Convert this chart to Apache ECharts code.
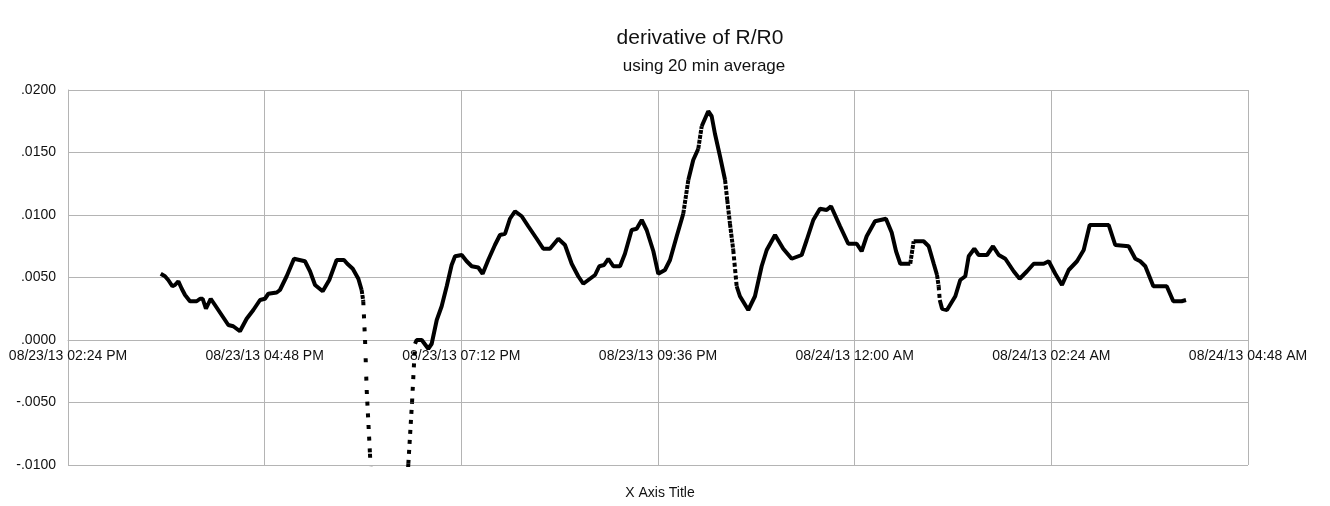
<!DOCTYPE html>
<html lang="en">
<head>
  <meta charset="UTF-8">
  <title>derivative of R/R0</title>
  <script src="https://cdn.jsdelivr.net/npm/echarts@6/dist/echarts.min.js"></script>
  <style>
    html, body { margin: 0; padding: 0; background: #fff; }
    #chart { width: 1330px; height: 506px; }
  </style>
</head>
<body>
<div id="chart"></div>
<script>
  // minutes after 08/23/13 02:24 PM
  const minutes = [
    67.9, 71.0, 73.4, 76.4, 78.3, 80.8, 83.3, 85.7, 89.3, 94.2,
    96.7, 98.6, 101.0, 104.5, 107.6, 112.5, 117.4, 121.0, 125.9, 130.8,
    135.7, 140.6, 144.2, 146.7, 152.8, 155.2, 160.1, 165.5, 173.5, 177.2,
    180.9, 186.5, 191.3, 196.7, 202.1, 204.5, 208.5, 212.6, 215.0, 216.2,
    217.5, 218.7, 221.1, 221.9, 235.8, 248.6, 249.2, 251.9, 254.1, 255.3,
    259.0, 263.8, 266.3, 270.0, 273.6, 277.3, 280.9, 283.4, 288.3, 291.9,
    295.6, 300.4, 303.6, 307.7, 312.6, 316.3, 320.0, 323.6, 327.3, 332.2,
    337.0, 343.2, 348.0, 352.9, 359.0, 363.9, 368.8, 373.6, 377.3, 382.2,
    385.9, 389.0, 392.5, 395.6, 399.3, 404.2, 407.8, 412.7, 416.4, 420.1,
    423.7, 428.6, 432.2, 437.1, 440.8, 445.7, 450.5, 454.2, 457.8, 461.5,
    464.0, 466.4, 468.8, 471.3, 473.7, 477.4, 481.1, 482.7, 484.7, 487.1,
    489.6, 492.0, 498.1, 503.0, 507.9, 511.6, 517.7, 523.7, 529.9, 537.2,
    540.9, 545.7, 550.6, 555.5, 558.7, 561.6, 565.3, 571.3, 577.5, 581.1,
    584.8, 590.9, 598.9, 603.1, 606.3, 609.4, 616.7, 619.2, 626.5, 630.2,
    633.9, 636.3, 637.5, 638.3, 640.0, 643.6, 649.7, 653.3, 657.0, 659.5,
    663.6, 666.8, 672.9, 677.3, 681.5, 686.3, 692.4, 696.8, 702.2, 707.1,
    714.4, 718.1, 722.9, 727.8, 732.7, 738.8, 743.7, 748.1, 762.0, 766.8,
    776.6, 781.5, 785.1, 788.8, 794.7, 804.5, 809.3, 815.4, 818.6
  ];
  const values = [
    0.0053, 0.0051, 0.0048, 0.0043, 0.0044, 0.0047, 0.0041, 0.0036, 0.0031, 0.0031,
    0.0033, 0.0033, 0.0025, 0.0033, 0.0028, 0.0020, 0.0012, 0.0011, 0.0007, 0.0017,
    0.0024, 0.0032, 0.0033, 0.0037, 0.0038, 0.0040, 0.0051, 0.0065, 0.0063, 0.0055,
    0.0044, 0.0039, 0.0048, 0.0064, 0.0064, 0.0061, 0.0057, 0.0049, 0.0040, 0.0031,
    0.0000, -0.0040, -0.0091, -0.0110, -0.0160, -0.0110, -0.0099, -0.0050, -0.0003, 0.0000,
    0.0000, -0.0007, -0.0003, 0.0016, 0.0027, 0.0043, 0.0060, 0.0067, 0.0068, 0.0063,
    0.0059, 0.0058, 0.0053, 0.0064, 0.0076, 0.0084, 0.0085, 0.0097, 0.0103, 0.0099,
    0.0091, 0.0081, 0.0073, 0.0073, 0.0081, 0.0076, 0.0061, 0.0051, 0.0045, 0.0049,
    0.0052, 0.0059, 0.0060, 0.0065, 0.0059, 0.0059, 0.0069, 0.0088, 0.0089, 0.0096,
    0.0088, 0.0071, 0.0053, 0.0056, 0.0064, 0.0083, 0.0101, 0.0128, 0.0144, 0.0153,
    0.0171, 0.0177, 0.0183, 0.0179, 0.0165, 0.0147, 0.0128, 0.0112, 0.0093, 0.0072,
    0.0043, 0.0035, 0.0024, 0.0035, 0.0059, 0.0072, 0.0084, 0.0073, 0.0065, 0.0068,
    0.0080, 0.0096, 0.0105, 0.0104, 0.0107, 0.0100, 0.0091, 0.0077, 0.0077, 0.0071,
    0.0083, 0.0095, 0.0097, 0.0086, 0.0071, 0.0061, 0.0061, 0.0079, 0.0079, 0.0075,
    0.0061, 0.0052, 0.0043, 0.0032, 0.0025, 0.0024, 0.0035, 0.0048, 0.0051, 0.0067,
    0.0073, 0.0068, 0.0068, 0.0075, 0.0068, 0.0065, 0.0055, 0.0049, 0.0055, 0.0061,
    0.0061, 0.0063, 0.0053, 0.0044, 0.0056, 0.0063, 0.0072, 0.0092, 0.0092, 0.0076,
    0.0075, 0.0065, 0.0063, 0.0059, 0.0043, 0.0043, 0.0031, 0.0031, 0.0032
  ];
  const xTicks = [0, 144, 288, 432, 576, 720, 864];

  const font = '"Liberation Sans", Arial, sans-serif';
  const gridColor = '#b4b4b4';

  // plot size, used to find where the samples spread out into dots
  const plotH = 375;
  const pxPerMin = 1180 / 864;
  const pxPerUnit = plotH / 0.03;

  function timeLabel(m) {
    const total = 14 * 60 + 24 + m;
    const day = 23 + Math.floor(total / 1440);
    const mins = total % 1440;
    const h24 = Math.floor(mins / 60);
    const mm = mins % 60;
    const h12 = h24 % 12 || 12;
    const pad = n => String(n).padStart(2, '0');
    return '08/' + day + '/13 ' + pad(h12) + ':' + pad(mm) + ' ' + (h24 < 12 ? 'AM' : 'PM');
  }

  // solid trace with breaks, steep pieces drawn as separate dotted series
  const solid = [];
  const dotted = [];
  for (let i = 0; i < minutes.length - 1; i++) {
    const dx = (minutes[i + 1] - minutes[i]) * pxPerMin;
    const dy = Math.abs(values[i + 1] - values[i]) * pxPerUnit;
    const slope = dy / dx;
    if (slope > 6) {
      dotted.push({ a: i, gap: Math.max(1, 0.6 * Math.sqrt(1 + slope * slope) - 4) });
      solid.push([(minutes[i] + minutes[i + 1]) / 2, '-']);
    } else {
      if (!solid.length || solid[solid.length - 1][0] !== minutes[i]) solid.push([minutes[i], values[i]]);
      solid.push([minutes[i + 1], values[i + 1]]);
    }
  }

  const series = [{
    type: 'line',
    data: solid,
    showSymbol: false,
    connectNulls: false,
    animation: false,
    lineStyle: { color: '#000', width: 4 }
  }];
  dotted.forEach(d => {
    series.push({
      type: 'line',
      data: [[minutes[d.a], values[d.a]], [minutes[d.a + 1], values[d.a + 1]]],
      showSymbol: false,
      animation: false,
      lineStyle: { color: '#000', width: 4, type: [4, d.gap], cap: 'butt' }
    });
  });

  const chart = echarts.init(document.getElementById('chart'));
  chart.setOption({
    backgroundColor: '#fff',
    animation: false,
    grid: { left: 68, right: 82, top: 90, bottom: 41 },
    xAxis: {
      type: 'value',
      min: xTicks[0],
      max: xTicks[xTicks.length - 1],
      interval: 144,
      // labels sit on the zero line, which is a third of the way up
      offset: -plotH / 3,
      axisLine: { onZero: false, lineStyle: { color: gridColor } },
      axisTick: { show: false },
      axisLabel: {
        margin: 9,
        fontSize: 14,
        fontFamily: font,
        color: '#111',
        showMinLabel: true,
        showMaxLabel: true,
        formatter: v => timeLabel(v)
      },
      splitLine: { show: true, lineStyle: { color: gridColor } }
    },
    yAxis: {
      type: 'value',
      min: -0.01,
      max: 0.02,
      interval: 0.005,
      axisLine: { show: true, onZero: false, lineStyle: { color: gridColor } },
      axisTick: { show: false },
      axisLabel: {
        margin: 12,
        fontSize: 14,
        fontFamily: font,
        color: '#111',
        formatter: v => v.toFixed(4).replace('0.', '.')
      },
      splitLine: { lineStyle: { color: gridColor } }
    },
    graphic: [
      { type: 'text', x: 700, y: 38, style: { text: 'derivative of R/R0', font: '21px ' + font, fill: '#111', align: 'center', verticalAlign: 'middle' } },
      { type: 'text', x: 704, y: 66, style: { text: 'using 20 min average', font: '17px ' + font, fill: '#111', align: 'center', verticalAlign: 'middle' } },
      { type: 'text', x: 660, y: 493, style: { text: 'X Axis Title', font: '14px ' + font, fill: '#111', align: 'center', verticalAlign: 'middle' } }
    ],
    series: series
  });
</script>
</body>
</html>
